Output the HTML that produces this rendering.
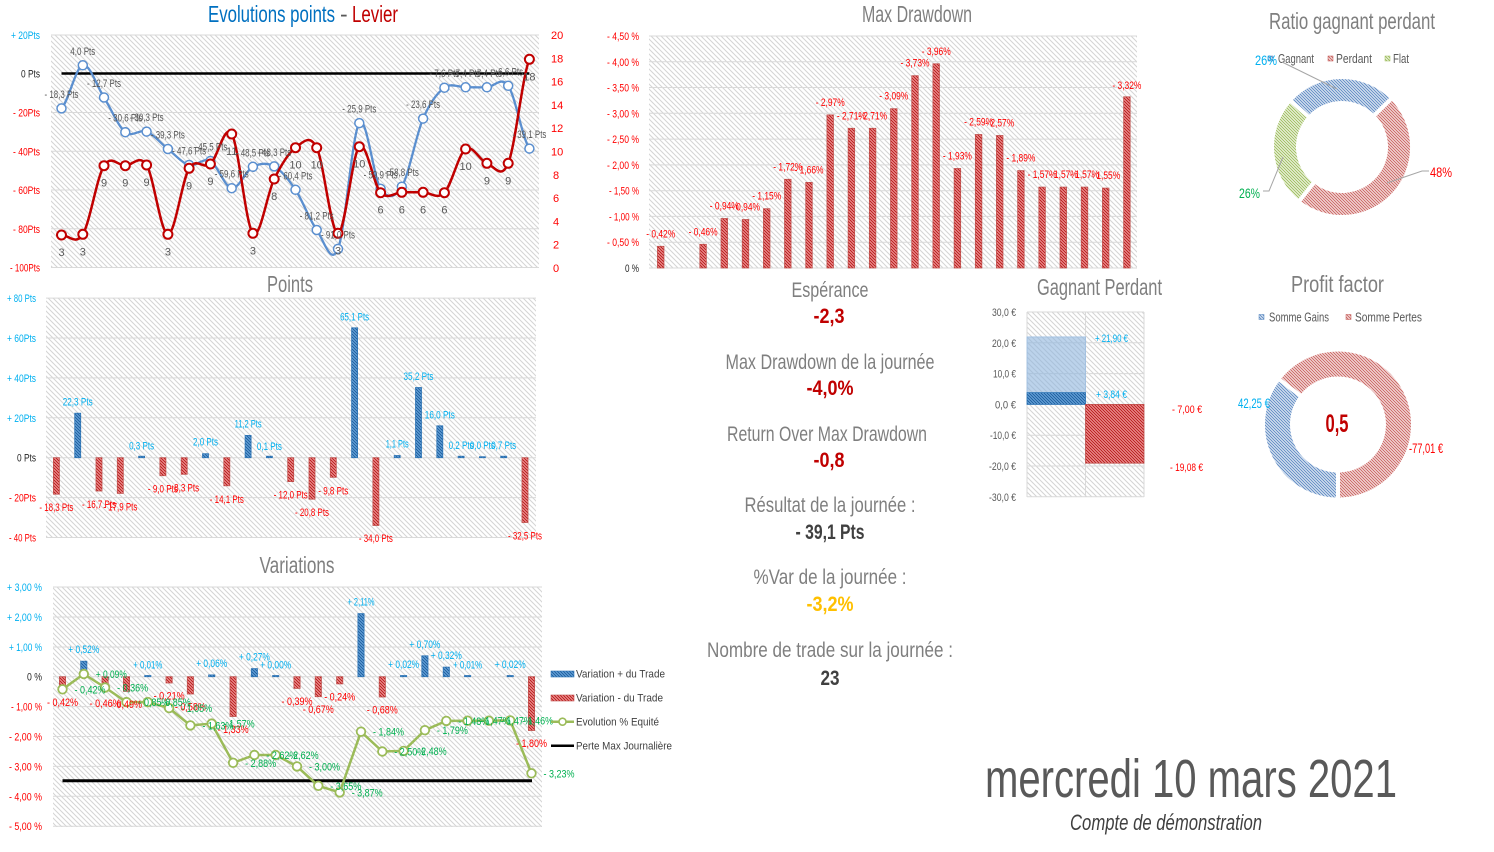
<!DOCTYPE html>
<html><head><meta charset="utf-8"><style>
html,body{margin:0;padding:0;background:#fff;}
svg{display:block}
text{font-family:"Liberation Sans Narrow","Liberation Sans",sans-serif;}
.s{font-size:11px}
.cy{fill:#00B0F0}.rd{fill:#FF0000}.dk{fill:#262626}.gy{fill:#595959}.gn{fill:#00B050}
.ti{font-size:23px;fill:#7F7F7F}
.mt{font-size:21px;fill:#7F7F7F}
.mv{font-size:21px;font-weight:bold}
</style></head><body>
<svg width="1494" height="852" viewBox="0 0 1494 852" xmlns="http://www.w3.org/2000/svg">
<defs>
<pattern id="bg" width="5" height="5" patternUnits="userSpaceOnUse"><rect width="5" height="5" fill="#fff"/><path d="M-1,-1 L6,6 M-1,4 L1,6 M4,-1 L6,1" stroke="#d4d4d4" stroke-width="1"/></pattern>
<pattern id="bl" width="3" height="3" patternUnits="userSpaceOnUse"><rect width="3" height="3" fill="#6aa6dc"/><path d="M-1,-1 L4,4 M-1,2 L1,4 M2,-1 L4,1" stroke="#1f5f9f" stroke-width="1"/></pattern>
<pattern id="rh" width="3" height="3" patternUnits="userSpaceOnUse"><rect width="3" height="3" fill="#f09a9a"/><path d="M-1,-1 L4,4 M-1,2 L1,4 M2,-1 L4,1" stroke="#b81c1c" stroke-width="1"/></pattern>
<pattern id="db" width="3" height="3" patternUnits="userSpaceOnUse"><rect width="3" height="3" fill="#dce6f2"/><path d="M-1,-1 L4,4 M-1,2 L1,4 M2,-1 L4,1" stroke="#5b87c2" stroke-width="0.9"/></pattern>
<pattern id="dr" width="3" height="3" patternUnits="userSpaceOnUse"><rect width="3" height="3" fill="#f4dedd"/><path d="M-1,-1 L4,4 M-1,2 L1,4 M2,-1 L4,1" stroke="#c9605d" stroke-width="0.9"/></pattern>
<pattern id="dg" width="3" height="3" patternUnits="userSpaceOnUse"><rect width="3" height="3" fill="#edf3e0"/><path d="M-1,-1 L4,4 M-1,2 L1,4 M2,-1 L4,1" stroke="#9bbb59" stroke-width="0.9"/></pattern>
</defs>
<rect width="1494" height="852" fill="#fff"/>

<!-- ========== Chart 1 : Evolutions points - Levier ========== -->
<text x="208" y="22" font-size="23" fill="#0070C0" textLength="127" lengthAdjust="spacingAndGlyphs">Evolutions points</text>
<text x="340" y="22" font-size="23" fill="#595959">-</text>
<text x="352" y="22" font-size="23" fill="#C00000" textLength="46" lengthAdjust="spacingAndGlyphs">Levier</text>
<rect x="51" y="35" width="488" height="233" fill="url(#bg)"/>
<g stroke="#d9d9d9" stroke-width="1">
<line x1="51" y1="35" x2="539" y2="35"/><line x1="51" y1="112.5" x2="539" y2="112.5"/><line x1="51" y1="151.3" x2="539" y2="151.3"/><line x1="51" y1="190" x2="539" y2="190"/><line x1="51" y1="228.8" x2="539" y2="228.8"/><line x1="51" y1="267.5" x2="539" y2="267.5"/>
</g>
<line x1="61.5" y1="73.5" x2="529.4" y2="73.5" stroke="#000" stroke-width="2.5"/>
<g class="s" text-anchor="end">
<text x="40" y="39" class="cy" textLength="29" lengthAdjust="spacingAndGlyphs">+ 20Pts</text>
<text x="40" y="77.5" class="dk" textLength="19" lengthAdjust="spacingAndGlyphs">0 Pts</text>
<text x="40" y="116.5" class="rd" textLength="27" lengthAdjust="spacingAndGlyphs">- 20Pts</text>
<text x="40" y="155.3" class="rd" textLength="27" lengthAdjust="spacingAndGlyphs">- 40Pts</text>
<text x="40" y="194" class="rd" textLength="27" lengthAdjust="spacingAndGlyphs">- 60Pts</text>
<text x="40" y="232.8" class="rd" textLength="27" lengthAdjust="spacingAndGlyphs">- 80Pts</text>
<text x="40" y="271.5" class="rd" textLength="30" lengthAdjust="spacingAndGlyphs">- 100Pts</text>
</g>
<g class="s rd">
<text x="551" y="39">20</text><text x="551" y="62.3">18</text><text x="551" y="85.6">16</text><text x="551" y="108.9">14</text><text x="551" y="132.2">12</text><text x="551" y="155.5">10</text><text x="553" y="178.8">8</text><text x="553" y="202.1">6</text><text x="553" y="225.4">4</text><text x="553" y="248.7">2</text><text x="553" y="272">0</text>
</g>
<path d="M61.5,108.4 C68.6,101.2 75.7,67.1 82.8,65.3 S96.9,86.35 104.0,97.5 S118.2,126.5 125.3,132.2 S139.5,128.8 146.6,131.6 S160.8,143.4 167.9,149.0 S182.0,163.0 189.1,165.0 S203.3,157.1 210.4,161.0 S224.6,187.2 231.7,188.2 S245.8,170.4 252.9,166.8 S267.1,162.6 274.2,166.4 S288.4,179.2 295.5,189.8 S309.6,220.2 316.7,230.0 S330.9,266.7 338.0,248.9 S352.2,133.1 359.3,123.1 S373.5,178.2 380.6,188.8 S394.7,198.4 401.8,186.7 S416.0,135.1 423.1,118.6 S437.3,92.9 444.4,87.7 S458.5,87.4 465.6,87.3 S479.8,87.55 486.9,87.3 S501.1,75.6 508.2,85.8 S522.3,138.1 529.4,148.6" fill="none" stroke="#5b8fcf" stroke-width="2.3"/>
<g fill="#fff" stroke="#5b8fcf" stroke-width="1.5">
<circle cx="61.5" cy="108.4" r="4.5"/><circle cx="82.8" cy="65.3" r="4.5"/><circle cx="104.0" cy="97.5" r="4.5"/><circle cx="125.3" cy="132.2" r="4.5"/><circle cx="146.6" cy="131.6" r="4.5"/><circle cx="167.9" cy="149.0" r="4.5"/><circle cx="189.1" cy="165.0" r="4.5"/><circle cx="210.4" cy="161.0" r="4.5"/><circle cx="231.7" cy="188.2" r="4.5"/><circle cx="252.9" cy="166.8" r="4.5"/><circle cx="274.2" cy="166.4" r="4.5"/><circle cx="295.5" cy="189.8" r="4.5"/><circle cx="316.7" cy="230.0" r="4.5"/><circle cx="338.0" cy="248.9" r="4.5"/><circle cx="359.3" cy="123.1" r="4.5"/><circle cx="380.6" cy="188.8" r="4.5"/><circle cx="401.8" cy="186.7" r="4.5"/><circle cx="423.1" cy="118.6" r="4.5"/><circle cx="444.4" cy="87.7" r="4.5"/><circle cx="465.6" cy="87.3" r="4.5"/><circle cx="486.9" cy="87.3" r="4.5"/><circle cx="508.2" cy="85.8" r="4.5"/><circle cx="529.4" cy="148.6" r="4.5"/>
</g>
<path d="M61.5,235 C68.6,234.9 75.7,245.85 82.8,234.3 S96.9,177.1 104.0,165.7 S118.2,165.8 125.3,165.7 S139.5,153.6 146.6,165 S160.8,233.75 167.9,234.3 S182.0,180.0 189.1,168.3 S203.3,169.7 210.4,164 S224.6,122.45 231.7,134 S245.8,225.8 252.9,233.3 S267.1,193.3 274.2,179 S288.4,152.9 295.5,147.7 S309.6,133.4 316.7,147.7 S330.9,233.5 338.0,233.3 S352.2,153.5 359.3,146.7 S373.5,185.1 380.6,192.7 S394.7,192.4 401.8,192.3 S416.0,192.2 423.1,192.3 S437.3,199.9 444.4,192.7 S458.5,153.9 465.6,149 S479.8,160.9 486.9,163.3 S501.1,180.6 508.2,163.3 S522.3,76.6 529.4,59.3" fill="none" stroke="#C00000" stroke-width="2.5"/>
<g fill="#fff" stroke="#C00000" stroke-width="2">
<circle cx="61.5" cy="235" r="4.5"/><circle cx="82.8" cy="234.3" r="4.5"/><circle cx="104.0" cy="165.7" r="4.5"/><circle cx="125.3" cy="165.7" r="4.5"/><circle cx="146.6" cy="165" r="4.5"/><circle cx="167.9" cy="234.3" r="4.5"/><circle cx="189.1" cy="168.3" r="4.5"/><circle cx="210.4" cy="164" r="4.5"/><circle cx="231.7" cy="134" r="4.5"/><circle cx="252.9" cy="233.3" r="4.5"/><circle cx="274.2" cy="179" r="4.5"/><circle cx="295.5" cy="147.7" r="4.5"/><circle cx="316.7" cy="147.7" r="4.5"/><circle cx="338.0" cy="233.3" r="4.5"/><circle cx="359.3" cy="146.7" r="4.5"/><circle cx="380.6" cy="192.7" r="4.5"/><circle cx="401.8" cy="192.3" r="4.5"/><circle cx="423.1" cy="192.3" r="4.5"/><circle cx="444.4" cy="192.7" r="4.5"/><circle cx="465.6" cy="149" r="4.5"/><circle cx="486.9" cy="163.3" r="4.5"/><circle cx="508.2" cy="163.3" r="4.5"/><circle cx="529.4" cy="59.3" r="4.5"/>
</g>
<g class="s gy" text-anchor="middle">
<text x="61.5" y="97.9" textLength="34" lengthAdjust="spacingAndGlyphs">- 18,3 Pts</text>
<text x="82.8" y="54.8" textLength="25" lengthAdjust="spacingAndGlyphs">4,0 Pts</text>
<text x="104.0" y="87.0" textLength="34" lengthAdjust="spacingAndGlyphs">- 12,7 Pts</text>
<text x="125.3" y="121.7" textLength="34" lengthAdjust="spacingAndGlyphs">- 30,6 Pts</text>
<text x="146.6" y="121.1" textLength="34" lengthAdjust="spacingAndGlyphs">- 30,3 Pts</text>
<text x="167.9" y="138.5" textLength="34" lengthAdjust="spacingAndGlyphs">- 39,3 Pts</text>
<text x="189.1" y="154.5" textLength="34" lengthAdjust="spacingAndGlyphs">- 47,6 Pts</text>
<text x="210.4" y="150.5" textLength="34" lengthAdjust="spacingAndGlyphs">- 45,5 Pts</text>
<text x="231.7" y="177.7" textLength="34" lengthAdjust="spacingAndGlyphs">- 59,6 Pts</text>
<text x="252.9" y="156.3" textLength="34" lengthAdjust="spacingAndGlyphs">- 48,5 Pts</text>
<text x="274.2" y="155.9" textLength="34" lengthAdjust="spacingAndGlyphs">- 48,3 Pts</text>
<text x="295.5" y="179.3" textLength="34" lengthAdjust="spacingAndGlyphs">- 60,4 Pts</text>
<text x="316.7" y="219.5" textLength="34" lengthAdjust="spacingAndGlyphs">- 81,2 Pts</text>
<text x="338.0" y="238.4" textLength="34" lengthAdjust="spacingAndGlyphs">- 91,0 Pts</text>
<text x="359.3" y="112.6" textLength="34" lengthAdjust="spacingAndGlyphs">- 25,9 Pts</text>
<text x="380.6" y="178.3" textLength="34" lengthAdjust="spacingAndGlyphs">- 59,9 Pts</text>
<text x="401.8" y="176.2" textLength="34" lengthAdjust="spacingAndGlyphs">- 58,8 Pts</text>
<text x="423.1" y="108.1" textLength="34" lengthAdjust="spacingAndGlyphs">- 23,6 Pts</text>
<text x="444.4" y="77.2" textLength="30" lengthAdjust="spacingAndGlyphs">- 7,6 Pts</text>
<text x="465.6" y="76.8" textLength="30" lengthAdjust="spacingAndGlyphs">- 7,4 Pts</text>
<text x="486.9" y="76.8" textLength="30" lengthAdjust="spacingAndGlyphs">- 7,4 Pts</text>
<text x="508.2" y="75.3" textLength="30" lengthAdjust="spacingAndGlyphs">- 6,6 Pts</text>
<text x="529.4" y="138.1" textLength="34" lengthAdjust="spacingAndGlyphs">- 39,1 Pts</text>
<text x="61.5" y="256">3</text><text x="82.8" y="255.3">3</text><text x="104.0" y="186.7">9</text><text x="125.3" y="186.7">9</text><text x="146.6" y="186">9</text><text x="167.9" y="255.3">3</text><text x="189.1" y="189.3">9</text><text x="210.4" y="185">9</text><text x="231.7" y="155">11</text><text x="252.9" y="254.3">3</text><text x="274.2" y="200">8</text><text x="295.5" y="168.7">10</text><text x="316.7" y="168.7">10</text><text x="338.0" y="254.3">3</text><text x="359.3" y="167.7">10</text><text x="380.6" y="213.7">6</text><text x="401.8" y="213.3">6</text><text x="423.1" y="213.3">6</text><text x="444.4" y="213.7">6</text><text x="465.6" y="170">10</text><text x="486.9" y="184.3">9</text><text x="508.2" y="184.3">9</text><text x="529.4" y="80.3">18</text>
</g>

<!-- ========== Chart 2 : Max Drawdown ========== -->
<text x="917" y="22" class="ti" text-anchor="middle" textLength="110" lengthAdjust="spacingAndGlyphs">Max Drawdown</text>
<rect x="649" y="36" width="488" height="232" fill="url(#bg)"/>
<g stroke="#d9d9d9" stroke-width="1">
<line x1="649" y1="36" x2="1137" y2="36"/><line x1="649" y1="61.8" x2="1137" y2="61.8"/><line x1="649" y1="87.5" x2="1137" y2="87.5"/><line x1="649" y1="113.3" x2="1137" y2="113.3"/><line x1="649" y1="139.1" x2="1137" y2="139.1"/><line x1="649" y1="164.9" x2="1137" y2="164.9"/><line x1="649" y1="190.7" x2="1137" y2="190.7"/><line x1="649" y1="216.4" x2="1137" y2="216.4"/><line x1="649" y1="242.2" x2="1137" y2="242.2"/><line x1="649" y1="268" x2="1137" y2="268"/>
</g>
<g class="s" text-anchor="end">
<text x="639" y="40" class="rd" textLength="32" lengthAdjust="spacingAndGlyphs">- 4,50 %</text>
<text x="639" y="65.8" class="rd" textLength="32" lengthAdjust="spacingAndGlyphs">- 4,00 %</text>
<text x="639" y="91.5" class="rd" textLength="32" lengthAdjust="spacingAndGlyphs">- 3,50 %</text>
<text x="639" y="117.3" class="rd" textLength="32" lengthAdjust="spacingAndGlyphs">- 3,00 %</text>
<text x="639" y="143.1" class="rd" textLength="32" lengthAdjust="spacingAndGlyphs">- 2,50 %</text>
<text x="639" y="168.9" class="rd" textLength="32" lengthAdjust="spacingAndGlyphs">- 2,00 %</text>
<text x="639" y="194.7" class="rd" textLength="30" lengthAdjust="spacingAndGlyphs">- 1,50 %</text>
<text x="639" y="220.4" class="rd" textLength="30" lengthAdjust="spacingAndGlyphs">- 1,00 %</text>
<text x="639" y="246.2" class="rd" textLength="32" lengthAdjust="spacingAndGlyphs">- 0,50 %</text>
<text x="639" y="272" class="dk" textLength="14" lengthAdjust="spacingAndGlyphs">0 %</text>
</g>
<g fill="url(#rh)" stroke="#c0504d" stroke-width="0.8">
<rect x="657.45" y="246.3" width="6.5" height="21.7"/>
<rect x="699.85" y="244.3" width="6.5" height="23.7"/>
<rect x="721.05" y="218.5" width="6.5" height="49.5"/>
<rect x="742.25" y="219.5" width="6.5" height="48.5"/>
<rect x="763.45" y="208.7" width="6.5" height="59.3"/>
<rect x="784.55" y="179.3" width="6.5" height="88.7"/>
<rect x="805.75" y="182.4" width="6.5" height="85.6"/>
<rect x="826.95" y="114.9" width="6.5" height="153.1"/>
<rect x="848.15" y="128.3" width="6.5" height="139.7"/>
<rect x="869.35" y="128.3" width="6.5" height="139.7"/>
<rect x="890.55" y="108.7" width="6.5" height="159.3"/>
<rect x="911.75" y="75.7" width="6.5" height="192.3"/>
<rect x="932.95" y="63.8" width="6.5" height="204.2"/>
<rect x="954.15" y="168.5" width="6.5" height="99.5"/>
<rect x="975.35" y="134.5" width="6.5" height="133.5"/>
<rect x="996.45" y="135.5" width="6.5" height="132.5"/>
<rect x="1017.65" y="170.6" width="6.5" height="97.4"/>
<rect x="1038.85" y="187.1" width="6.5" height="80.9"/>
<rect x="1060.05" y="187.1" width="6.5" height="80.9"/>
<rect x="1081.25" y="187.1" width="6.5" height="80.9"/>
<rect x="1102.45" y="188.1" width="6.5" height="79.9"/>
<rect x="1123.65" y="96.8" width="6.5" height="171.2"/>
</g>
<g class="s rd" text-anchor="middle">
<text x="660.7" y="237.3" textLength="29" lengthAdjust="spacingAndGlyphs">- 0,42%</text>
<text x="703.1" y="235.3" textLength="29" lengthAdjust="spacingAndGlyphs">- 0,46%</text>
<text x="724.3" y="209.5" textLength="29" lengthAdjust="spacingAndGlyphs">- 0,94%</text>
<text x="745.5" y="210.5" textLength="29" lengthAdjust="spacingAndGlyphs">- 0,94%</text>
<text x="766.7" y="199.7" textLength="29" lengthAdjust="spacingAndGlyphs">- 1,15%</text>
<text x="787.8" y="170.3" textLength="29" lengthAdjust="spacingAndGlyphs">- 1,72%</text>
<text x="809.0" y="173.4" textLength="29" lengthAdjust="spacingAndGlyphs">- 1,66%</text>
<text x="830.2" y="105.9" textLength="29" lengthAdjust="spacingAndGlyphs">- 2,97%</text>
<text x="851.4" y="119.3" textLength="29" lengthAdjust="spacingAndGlyphs">- 2,71%</text>
<text x="872.6" y="119.3" textLength="29" lengthAdjust="spacingAndGlyphs">- 2,71%</text>
<text x="893.8" y="99.7" textLength="29" lengthAdjust="spacingAndGlyphs">- 3,09%</text>
<text x="915.0" y="66.7" textLength="29" lengthAdjust="spacingAndGlyphs">- 3,73%</text>
<text x="936.2" y="55.2" textLength="29" lengthAdjust="spacingAndGlyphs">- 3,96%</text>
<text x="957.4" y="159.5" textLength="29" lengthAdjust="spacingAndGlyphs">- 1,93%</text>
<text x="978.6" y="125.5" textLength="29" lengthAdjust="spacingAndGlyphs">- 2,59%</text>
<text x="999.7" y="126.5" textLength="29" lengthAdjust="spacingAndGlyphs">- 2,57%</text>
<text x="1020.9" y="161.6" textLength="29" lengthAdjust="spacingAndGlyphs">- 1,89%</text>
<text x="1042.1" y="178.1" textLength="29" lengthAdjust="spacingAndGlyphs">- 1,57%</text>
<text x="1063.3" y="178.1" textLength="29" lengthAdjust="spacingAndGlyphs">- 1,57%</text>
<text x="1084.5" y="178.1" textLength="29" lengthAdjust="spacingAndGlyphs">- 1,57%</text>
<text x="1105.7" y="179.1" textLength="29" lengthAdjust="spacingAndGlyphs">- 1,55%</text>
<text x="1126.9" y="89" textLength="29" lengthAdjust="spacingAndGlyphs">- 3,32%</text>
</g>

<!-- ========== Chart 3 : Points ========== -->
<text x="290" y="292" class="ti" text-anchor="middle" textLength="46" lengthAdjust="spacingAndGlyphs">Points</text>
<rect x="46" y="298" width="490" height="240" fill="url(#bg)"/>
<g stroke="#d9d9d9" stroke-width="1">
<line x1="46" y1="298.1" x2="536" y2="298.1"/><line x1="46" y1="338" x2="536" y2="338"/><line x1="46" y1="377.9" x2="536" y2="377.9"/><line x1="46" y1="417.8" x2="536" y2="417.8"/><line x1="46" y1="457.7" x2="536" y2="457.7"/><line x1="46" y1="497.6" x2="536" y2="497.6"/><line x1="46" y1="537.5" x2="536" y2="537.5"/>
</g>
<g class="s" text-anchor="end">
<text x="36" y="302.1" class="cy" textLength="29" lengthAdjust="spacingAndGlyphs">+ 80 Pts</text>
<text x="36" y="342" class="cy" textLength="29" lengthAdjust="spacingAndGlyphs">+ 60Pts</text>
<text x="36" y="381.9" class="cy" textLength="29" lengthAdjust="spacingAndGlyphs">+ 40Pts</text>
<text x="36" y="421.8" class="cy" textLength="29" lengthAdjust="spacingAndGlyphs">+ 20Pts</text>
<text x="36" y="461.7" class="dk" textLength="19" lengthAdjust="spacingAndGlyphs">0 Pts</text>
<text x="36" y="501.6" class="rd" textLength="27" lengthAdjust="spacingAndGlyphs">- 20Pts</text>
<text x="36" y="541.5" class="rd" textLength="27" lengthAdjust="spacingAndGlyphs">- 40 Pts</text>
</g>
<g fill="url(#bl)" stroke="#2e75b6" stroke-width="0.8">
<rect x="74.7" y="413.2" width="6" height="44.5"/><rect x="138.6" y="456.2" width="6" height="1.5"/><rect x="202.5" y="453.7" width="6" height="4"/><rect x="245.1" y="435.4" width="6" height="22.3"/><rect x="266.4" y="456.2" width="6" height="1.5"/><rect x="351.6" y="327.8" width="6" height="129.9"/><rect x="394.2" y="455.5" width="6" height="2.2"/><rect x="415.5" y="387.5" width="6" height="70.2"/><rect x="436.8" y="425.8" width="6" height="31.9"/><rect x="458.1" y="456.2" width="6" height="1.5"/><rect x="479.4" y="456.7" width="6" height="1"/><rect x="500.7" y="456.2" width="6" height="1.5"/>
</g>
<g fill="url(#rh)" stroke="#c0504d" stroke-width="0.8">
<rect x="53.4" y="457.7" width="6" height="36.5"/><rect x="96.0" y="457.7" width="6" height="33.3"/><rect x="117.3" y="457.7" width="6" height="35.7"/><rect x="159.9" y="457.7" width="6" height="18"/><rect x="181.2" y="457.7" width="6" height="16.6"/><rect x="223.8" y="457.7" width="6" height="28.1"/><rect x="287.7" y="457.7" width="6" height="23.9"/><rect x="309.0" y="457.7" width="6" height="41.5"/><rect x="330.3" y="457.7" width="6" height="19.6"/><rect x="372.9" y="457.7" width="6" height="67.8"/><rect x="522.0" y="457.7" width="6" height="64.8"/>
</g>
<g class="s cy" text-anchor="middle">
<text x="77.7" y="405.7" textLength="30" lengthAdjust="spacingAndGlyphs">22,3 Pts</text>
<text x="141.6" y="449.6" textLength="25" lengthAdjust="spacingAndGlyphs">0,3 Pts</text>
<text x="205.5" y="445.5" textLength="25" lengthAdjust="spacingAndGlyphs">2,0 Pts</text>
<text x="248.1" y="427.6" textLength="27" lengthAdjust="spacingAndGlyphs">11,2 Pts</text>
<text x="269.4" y="450" textLength="25" lengthAdjust="spacingAndGlyphs">0,1 Pts</text>
<text x="354.6" y="320.5" textLength="29" lengthAdjust="spacingAndGlyphs">65,1 Pts</text>
<text x="397.2" y="447.5" textLength="23" lengthAdjust="spacingAndGlyphs">1,1 Pts</text>
<text x="418.5" y="380" textLength="30" lengthAdjust="spacingAndGlyphs">35,2 Pts</text>
<text x="439.8" y="418.3" textLength="30" lengthAdjust="spacingAndGlyphs">16,0 Pts</text>
<text x="461.1" y="449" textLength="25" lengthAdjust="spacingAndGlyphs">0,2 Pts</text>
<text x="482.4" y="449" textLength="25" lengthAdjust="spacingAndGlyphs">0,0 Pts</text>
<text x="503.7" y="448.8" textLength="25" lengthAdjust="spacingAndGlyphs">0,7 Pts</text>
</g>
<g class="s rd" text-anchor="middle">
<text x="56.4" y="511.2" textLength="34" lengthAdjust="spacingAndGlyphs">- 18,3 Pts</text>
<text x="99.0" y="508" textLength="34" lengthAdjust="spacingAndGlyphs">- 16,7 Pts</text>
<text x="120.3" y="510.4" textLength="34" lengthAdjust="spacingAndGlyphs">- 17,9 Pts</text>
<text x="162.9" y="492.7" textLength="30" lengthAdjust="spacingAndGlyphs">- 9,0 Pts</text>
<text x="184.2" y="491.3" textLength="30" lengthAdjust="spacingAndGlyphs">- 8,3 Pts</text>
<text x="226.8" y="502.8" textLength="34" lengthAdjust="spacingAndGlyphs">- 14,1 Pts</text>
<text x="290.7" y="498.6" textLength="34" lengthAdjust="spacingAndGlyphs">- 12,0 Pts</text>
<text x="312.0" y="516.2" textLength="34" lengthAdjust="spacingAndGlyphs">- 20,8 Pts</text>
<text x="333.3" y="494.3" textLength="30" lengthAdjust="spacingAndGlyphs">- 9,8 Pts</text>
<text x="375.9" y="542" textLength="34" lengthAdjust="spacingAndGlyphs">- 34,0 Pts</text>
<text x="525.0" y="539.5" textLength="34" lengthAdjust="spacingAndGlyphs">- 32,5 Pts</text>
</g>

<!-- ========== Chart 4 : Variations ========== -->
<text x="297" y="573" class="ti" text-anchor="middle" textLength="75" lengthAdjust="spacingAndGlyphs">Variations</text>
<rect x="53" y="587" width="489" height="240" fill="url(#bg)"/>
<g stroke="#d9d9d9" stroke-width="1">
<line x1="53" y1="587" x2="542" y2="587"/><line x1="53" y1="617" x2="542" y2="617"/><line x1="53" y1="647" x2="542" y2="647"/><line x1="53" y1="676.7" x2="542" y2="676.7"/><line x1="53" y1="706.6" x2="542" y2="706.6"/><line x1="53" y1="736.5" x2="542" y2="736.5"/><line x1="53" y1="766.4" x2="542" y2="766.4"/><line x1="53" y1="796.3" x2="542" y2="796.3"/><line x1="53" y1="826.2" x2="542" y2="826.2"/>
</g>
<g class="s" text-anchor="end">
<text x="42" y="591" class="cy" textLength="35" lengthAdjust="spacingAndGlyphs">+ 3,00 %</text>
<text x="42" y="621" class="cy" textLength="35" lengthAdjust="spacingAndGlyphs">+ 2,00 %</text>
<text x="42" y="651" class="cy" textLength="33" lengthAdjust="spacingAndGlyphs">+ 1,00 %</text>
<text x="42" y="680.7" class="dk" textLength="15" lengthAdjust="spacingAndGlyphs">0 %</text>
<text x="42" y="710.6" class="rd" textLength="31" lengthAdjust="spacingAndGlyphs">- 1,00 %</text>
<text x="42" y="740.5" class="rd" textLength="33" lengthAdjust="spacingAndGlyphs">- 2,00 %</text>
<text x="42" y="770.4" class="rd" textLength="33" lengthAdjust="spacingAndGlyphs">- 3,00 %</text>
<text x="42" y="800.3" class="rd" textLength="33" lengthAdjust="spacingAndGlyphs">- 4,00 %</text>
<text x="42" y="830.2" class="rd" textLength="33" lengthAdjust="spacingAndGlyphs">- 5,00 %</text>
</g>
<g fill="url(#bl)" stroke="#2e75b6" stroke-width="0.8">
<rect x="80.7" y="661.2" width="6.2" height="15.5"/><rect x="144.7" y="675.5" width="6.2" height="1.2"/><rect x="208.6" y="674.9" width="6.2" height="1.8"/><rect x="251.3" y="668.6" width="6.2" height="8.1"/><rect x="272.6" y="675.5" width="6.2" height="1.2"/><rect x="357.9" y="613.6" width="6.2" height="63.1"/><rect x="400.5" y="675.5" width="6.2" height="1.2"/><rect x="421.8" y="655.8" width="6.2" height="20.9"/><rect x="443.2" y="667.1" width="6.2" height="9.6"/><rect x="464.5" y="675.5" width="6.2" height="1.2"/><rect x="507.1" y="675.5" width="6.2" height="1.2"/>
</g>
<g fill="url(#rh)" stroke="#c0504d" stroke-width="0.8">
<rect x="59.4" y="676.7" width="6.2" height="12.6"/><rect x="102.0" y="676.7" width="6.2" height="13.8"/><rect x="123.4" y="676.7" width="6.2" height="14.7"/><rect x="166.0" y="676.7" width="6.2" height="6.3"/><rect x="187.3" y="676.7" width="6.2" height="17.3"/><rect x="230.0" y="676.7" width="6.2" height="39.8"/><rect x="293.9" y="676.7" width="6.2" height="11.7"/><rect x="315.2" y="676.7" width="6.2" height="20"/><rect x="336.6" y="676.7" width="6.2" height="7.2"/><rect x="379.2" y="676.7" width="6.2" height="20.3"/><rect x="528.4" y="676.7" width="6.2" height="53.8"/>
</g>
<line x1="62.5" y1="780.8" x2="532" y2="780.8" stroke="#000" stroke-width="3"/>
<polyline points="62.5,689.3 83.8,674.0 105.1,687.5 126.5,702.1 147.8,702.1 169.1,708.1 190.4,725.4 211.7,723.6 233.1,762.8 254.4,755.0 275.7,755.0 297.0,766.4 318.3,785.8 339.7,792.4 361.0,731.7 382.3,751.5 403.6,750.9 424.9,730.2 446.3,720.9 467.6,720.7 488.9,720.7 510.2,720.4 531.5,773.3" fill="none" stroke="#9bbb59" stroke-width="2.5" stroke-linejoin="round"/>
<g fill="#fff" stroke="#9bbb59" stroke-width="1.8">
<circle cx="62.5" cy="689.3" r="4.3"/><circle cx="83.8" cy="674.0" r="4.3"/><circle cx="105.1" cy="687.5" r="4.3"/><circle cx="126.5" cy="702.1" r="4.3"/><circle cx="147.8" cy="702.1" r="4.3"/><circle cx="169.1" cy="708.1" r="4.3"/><circle cx="190.4" cy="725.4" r="4.3"/><circle cx="211.7" cy="723.6" r="4.3"/><circle cx="233.1" cy="762.8" r="4.3"/><circle cx="254.4" cy="755.0" r="4.3"/><circle cx="275.7" cy="755.0" r="4.3"/><circle cx="297.0" cy="766.4" r="4.3"/><circle cx="318.3" cy="785.8" r="4.3"/><circle cx="339.7" cy="792.4" r="4.3"/><circle cx="361.0" cy="731.7" r="4.3"/><circle cx="382.3" cy="751.5" r="4.3"/><circle cx="403.6" cy="750.9" r="4.3"/><circle cx="424.9" cy="730.2" r="4.3"/><circle cx="446.3" cy="720.9" r="4.3"/><circle cx="467.6" cy="720.7" r="4.3"/><circle cx="488.9" cy="720.7" r="4.3"/><circle cx="510.2" cy="720.4" r="4.3"/><circle cx="531.5" cy="773.3" r="4.3"/>
</g>
<g class="s cy" text-anchor="middle">
<text x="83.8" y="653.2" textLength="31" lengthAdjust="spacingAndGlyphs">+ 0,52%</text>
<text x="147.8" y="668.4" textLength="29" lengthAdjust="spacingAndGlyphs">+ 0,01%</text>
<text x="211.7" y="666.9" textLength="31" lengthAdjust="spacingAndGlyphs">+ 0,06%</text>
<text x="254.4" y="660.6" textLength="31" lengthAdjust="spacingAndGlyphs">+ 0,27%</text>
<text x="275.7" y="668.7" textLength="31" lengthAdjust="spacingAndGlyphs">+ 0,00%</text>
<text x="361.0" y="605.6" textLength="27" lengthAdjust="spacingAndGlyphs">+ 2,11%</text>
<text x="403.6" y="668.1" textLength="31" lengthAdjust="spacingAndGlyphs">+ 0,02%</text>
<text x="424.9" y="647.8" textLength="31" lengthAdjust="spacingAndGlyphs">+ 0,70%</text>
<text x="446.3" y="659.1" textLength="31" lengthAdjust="spacingAndGlyphs">+ 0,32%</text>
<text x="467.6" y="668.4" textLength="29" lengthAdjust="spacingAndGlyphs">+ 0,01%</text>
<text x="510.2" y="668.1" textLength="31" lengthAdjust="spacingAndGlyphs">+ 0,02%</text>
</g>
<g class="s rd" text-anchor="middle">
<text x="62.5" y="705.8" textLength="31" lengthAdjust="spacingAndGlyphs">- 0,42%</text>
<text x="105.1" y="707" textLength="31" lengthAdjust="spacingAndGlyphs">- 0,46%</text>
<text x="126.5" y="707.9" textLength="31" lengthAdjust="spacingAndGlyphs">- 0,49%</text>
<text x="169.1" y="699.5" textLength="31" lengthAdjust="spacingAndGlyphs">- 0,21%</text>
<text x="190.4" y="710.5" textLength="31" lengthAdjust="spacingAndGlyphs">- 0,58%</text>
<text x="233.1" y="733" textLength="31" lengthAdjust="spacingAndGlyphs">- 1,33%</text>
<text x="297.0" y="704.9" textLength="31" lengthAdjust="spacingAndGlyphs">- 0,39%</text>
<text x="318.3" y="713.2" textLength="31" lengthAdjust="spacingAndGlyphs">- 0,67%</text>
<text x="339.7" y="700.4" textLength="31" lengthAdjust="spacingAndGlyphs">- 0,24%</text>
<text x="382.3" y="713.5" textLength="31" lengthAdjust="spacingAndGlyphs">- 0,68%</text>
<text x="531.5" y="747" textLength="31" lengthAdjust="spacingAndGlyphs">- 1,80%</text>
</g>
<g class="s gn">
<text x="74.5" y="693.3" textLength="31" lengthAdjust="spacingAndGlyphs">- 0,42%</text>
<text x="95.8" y="678" textLength="31" lengthAdjust="spacingAndGlyphs">+ 0,09%</text>
<text x="117.1" y="691.5" textLength="31" lengthAdjust="spacingAndGlyphs">- 0,36%</text>
<text x="138.5" y="706.1" textLength="31" lengthAdjust="spacingAndGlyphs">- 0,85%</text>
<text x="159.8" y="706.1" textLength="31" lengthAdjust="spacingAndGlyphs">- 0,85%</text>
<text x="181.1" y="712.1" textLength="31" lengthAdjust="spacingAndGlyphs">- 1,05%</text>
<text x="202.4" y="729.4" textLength="31" lengthAdjust="spacingAndGlyphs">- 1,63%</text>
<text x="223.7" y="727.6" textLength="31" lengthAdjust="spacingAndGlyphs">- 1,57%</text>
<text x="245.1" y="766.8" textLength="31" lengthAdjust="spacingAndGlyphs">- 2,88%</text>
<text x="266.4" y="759" textLength="31" lengthAdjust="spacingAndGlyphs">- 2,62%</text>
<text x="287.7" y="759" textLength="31" lengthAdjust="spacingAndGlyphs">- 2,62%</text>
<text x="309.0" y="770.4" textLength="31" lengthAdjust="spacingAndGlyphs">- 3,00%</text>
<text x="330.3" y="789.8" textLength="31" lengthAdjust="spacingAndGlyphs">- 3,65%</text>
<text x="351.7" y="796.4" textLength="31" lengthAdjust="spacingAndGlyphs">- 3,87%</text>
<text x="373.0" y="735.7" textLength="31" lengthAdjust="spacingAndGlyphs">- 1,84%</text>
<text x="394.3" y="755.5" textLength="31" lengthAdjust="spacingAndGlyphs">- 2,50%</text>
<text x="415.6" y="754.9" textLength="31" lengthAdjust="spacingAndGlyphs">- 2,48%</text>
<text x="436.9" y="734.2" textLength="31" lengthAdjust="spacingAndGlyphs">- 1,79%</text>
<text x="458.3" y="724.9" textLength="31" lengthAdjust="spacingAndGlyphs">- 1,48%</text>
<text x="479.6" y="724.7" textLength="31" lengthAdjust="spacingAndGlyphs">- 1,47%</text>
<text x="500.9" y="724.7" textLength="31" lengthAdjust="spacingAndGlyphs">- 1,47%</text>
<text x="522.2" y="724.4" textLength="31" lengthAdjust="spacingAndGlyphs">- 1,46%</text>
<text x="543.5" y="777.3" textLength="31" lengthAdjust="spacingAndGlyphs">- 3,23%</text>
</g>
<!-- legend -->
<rect x="551" y="671" width="23" height="6" fill="url(#bl)" stroke="#2e75b6" stroke-width="0.6"/>
<rect x="551" y="695" width="23" height="6" fill="url(#rh)" stroke="#c0504d" stroke-width="0.6"/>
<line x1="551" y1="721.7" x2="574" y2="721.7" stroke="#9bbb59" stroke-width="2.5"/>
<circle cx="562.5" cy="721.7" r="3.5" fill="#fff" stroke="#9bbb59" stroke-width="1.6"/>
<line x1="551" y1="745.7" x2="574" y2="745.7" stroke="#000" stroke-width="2.5"/>
<g class="s" fill="#404040">
<text x="576" y="677.7" textLength="89" lengthAdjust="spacingAndGlyphs">Variation + du Trade</text>
<text x="576" y="701.7" textLength="87" lengthAdjust="spacingAndGlyphs">Variation - du Trade</text>
<text x="576" y="725.7" textLength="83" lengthAdjust="spacingAndGlyphs">Evolution % Equité</text>
<text x="576" y="749.7" textLength="96" lengthAdjust="spacingAndGlyphs">Perte Max Journalière</text>
</g>

<!-- ========== Middle KPIs ========== -->
<g text-anchor="middle">
<text x="830" y="297" class="mt" textLength="77" lengthAdjust="spacingAndGlyphs">Espérance</text>
<text x="829" y="323" class="mv" fill="#C00000" textLength="31" lengthAdjust="spacingAndGlyphs">-2,3</text>
<text x="830" y="369" class="mt" textLength="209" lengthAdjust="spacingAndGlyphs">Max Drawdown de la journée</text>
<text x="830" y="395" class="mv" fill="#C00000" textLength="47" lengthAdjust="spacingAndGlyphs">-4,0%</text>
<text x="827" y="441" class="mt" textLength="200" lengthAdjust="spacingAndGlyphs">Return Over Max Drawdown</text>
<text x="829" y="467" class="mv" fill="#C00000" textLength="31" lengthAdjust="spacingAndGlyphs">-0,8</text>
<text x="830" y="512" class="mt" textLength="171" lengthAdjust="spacingAndGlyphs">Résultat de la journée :</text>
<text x="830" y="539" class="mv" fill="#404040" textLength="69" lengthAdjust="spacingAndGlyphs">- 39,1 Pts</text>
<text x="830" y="584" class="mt" textLength="153" lengthAdjust="spacingAndGlyphs">%Var de la journée :</text>
<text x="830" y="611" class="mv" fill="#FFC000" textLength="47" lengthAdjust="spacingAndGlyphs">-3,2%</text>
<text x="830" y="657" class="mt" textLength="246" lengthAdjust="spacingAndGlyphs">Nombre de trade sur la journée :</text>
<text x="830" y="685" class="mv" fill="#404040" textLength="19" lengthAdjust="spacingAndGlyphs">23</text>
</g>

<!-- ========== Gagnant Perdant ========== -->
<text x="1099.5" y="295" class="ti" text-anchor="middle" textLength="125" lengthAdjust="spacingAndGlyphs">Gagnant Perdant</text>
<rect x="1027" y="312" width="117" height="185" fill="url(#bg)"/>
<g stroke="#d9d9d9" stroke-width="1">
<line x1="1027" y1="312" x2="1144" y2="312"/><line x1="1027" y1="342.8" x2="1144" y2="342.8"/><line x1="1027" y1="373.6" x2="1144" y2="373.6"/><line x1="1027" y1="404.4" x2="1144" y2="404.4"/><line x1="1027" y1="435.2" x2="1144" y2="435.2"/><line x1="1027" y1="466" x2="1144" y2="466"/><line x1="1027" y1="496.8" x2="1144" y2="496.8"/>
<line x1="1027" y1="312" x2="1027" y2="497"/><line x1="1085.5" y1="312" x2="1085.5" y2="497"/><line x1="1144" y1="312" x2="1144" y2="497"/>
</g>
<rect x="1027" y="336.9" width="58.5" height="67.5" fill="#8fb5de" fill-opacity="0.6" stroke="#9dbfe3" stroke-width="0.8"/>
<rect x="1027" y="392.6" width="58.5" height="11.8" fill="url(#bl)" stroke="#2e75b6" stroke-width="0.8"/>
<rect x="1085.5" y="404.4" width="58.5" height="58.8" fill="url(#rh)" stroke="#c0504d" stroke-width="0.8"/>
<g class="s gy" text-anchor="end">
<text x="1016" y="316" textLength="24" lengthAdjust="spacingAndGlyphs">30,0 €</text>
<text x="1016" y="346.8" textLength="24" lengthAdjust="spacingAndGlyphs">20,0 €</text>
<text x="1016" y="377.6" textLength="23" lengthAdjust="spacingAndGlyphs">10,0 €</text>
<text x="1016" y="408.4" textLength="21" lengthAdjust="spacingAndGlyphs">0,0 €</text>
<text x="1016" y="439.2" textLength="26" lengthAdjust="spacingAndGlyphs">-10,0 €</text>
<text x="1016" y="470" textLength="27" lengthAdjust="spacingAndGlyphs">-20,0 €</text>
<text x="1016" y="500.8" textLength="27" lengthAdjust="spacingAndGlyphs">-30,0 €</text>
</g>
<g class="s" text-anchor="middle">
<text x="1111.5" y="342" class="cy" textLength="33" lengthAdjust="spacingAndGlyphs">+ 21,90 €</text>
<text x="1111.5" y="398" class="cy" textLength="31" lengthAdjust="spacingAndGlyphs">+ 3,84 €</text>
<text x="1187" y="413" class="rd" textLength="30" lengthAdjust="spacingAndGlyphs">- 7,00 €</text>
<text x="1186.5" y="471" class="rd" textLength="33" lengthAdjust="spacingAndGlyphs">- 19,08 €</text>
</g>

<!-- ========== Ratio gagnant perdant ========== -->
<text x="1352" y="29" class="ti" text-anchor="middle" textLength="166" lengthAdjust="spacingAndGlyphs">Ratio gagnant perdant</text>
<rect x="1268" y="56" width="5" height="5" fill="url(#db)" stroke="#4f81bd" stroke-width="0.5"/>
<rect x="1328" y="56" width="5" height="5" fill="url(#dr)" stroke="#c0504d" stroke-width="0.5"/>
<rect x="1385" y="56" width="5" height="5" fill="url(#dg)" stroke="#9bbb59" stroke-width="0.5"/>
<g font-size="13" class="gy">
<text x="1278" y="63" textLength="36" lengthAdjust="spacingAndGlyphs">Gagnant</text>
<text x="1336" y="63" textLength="36" lengthAdjust="spacingAndGlyphs">Perdant</text>
<text x="1393" y="63" textLength="16" lengthAdjust="spacingAndGlyphs">Flat</text>
</g>
<g stroke="#fff" stroke-width="4" stroke-linejoin="miter">
<path d="M1289.98,100.16 A70,70 0 0 1 1392.02,98.02 L1373.44,116.21 A44,44 0 0 0 1309.30,117.56 Z" fill="url(#db)"/>
<path d="M1392.02,98.02 A70,70 0 0 1 1298.52,201.86 L1314.67,181.48 A44,44 0 0 0 1373.44,116.21 Z" fill="url(#dr)"/>
<path d="M1298.52,201.86 A70,70 0 0 1 1289.98,100.16 L1309.30,117.56 A44,44 0 0 0 1314.67,181.48 Z" fill="url(#dg)"/>
</g>
<g stroke="#a6a6a6" stroke-width="1" fill="none">
<polyline points="1282,62 1337,89"/>
<polyline points="1387,183 1422,171 1429,171"/>
<polyline points="1263,191 1269,191 1283,157"/>
</g>
<g font-size="14">
<text x="1255" y="65" class="cy" textLength="22" lengthAdjust="spacingAndGlyphs">26%</text>
<text x="1430" y="177" class="rd" textLength="22" lengthAdjust="spacingAndGlyphs">48%</text>
<text x="1239" y="198" class="gn" textLength="21" lengthAdjust="spacingAndGlyphs">26%</text>
</g>

<!-- ========== Profit factor ========== -->
<text x="1337.5" y="292" class="ti" text-anchor="middle" textLength="93" lengthAdjust="spacingAndGlyphs">Profit factor</text>
<rect x="1259" y="314.5" width="5" height="5" fill="url(#db)" stroke="#4f81bd" stroke-width="0.5"/>
<rect x="1346" y="314.5" width="5" height="5" fill="url(#dr)" stroke="#c0504d" stroke-width="0.5"/>
<g font-size="13" class="gy">
<text x="1269" y="321.5" textLength="60" lengthAdjust="spacingAndGlyphs">Somme Gains</text>
<text x="1355" y="321.5" textLength="67" lengthAdjust="spacingAndGlyphs">Somme Pertes</text>
</g>
<g stroke="#fff" stroke-width="4">
<path d="M1338,499.5 A75,75 0 0 1 1278.5,378.84 L1301.5,396.5 A46,46 0 0 0 1338,470.5 Z" fill="url(#db)"/>
<path d="M1278.5,378.84 A75,75 0 1 1 1338,499.5 L1338,470.5 A46,46 0 1 0 1301.5,396.5 Z" fill="url(#dr)"/>
</g>
<text x="1337" y="432" text-anchor="middle" font-size="25" font-weight="bold" fill="#C00000" textLength="23" lengthAdjust="spacingAndGlyphs">0,5</text>
<text x="1238" y="408" font-size="14" class="cy" textLength="32" lengthAdjust="spacingAndGlyphs">42,25 €</text>
<text x="1409" y="453" font-size="14" class="rd" textLength="34" lengthAdjust="spacingAndGlyphs">-77,01 €</text>

<!-- ========== Date ========== -->
<text x="985" y="797" font-size="54" fill="#595959" textLength="412" lengthAdjust="spacingAndGlyphs">mercredi 10 mars 2021</text>
<text x="1070" y="830" font-size="22" font-style="italic" fill="#404040" textLength="192" lengthAdjust="spacingAndGlyphs">Compte de démonstration</text>
</svg>
</body></html>
